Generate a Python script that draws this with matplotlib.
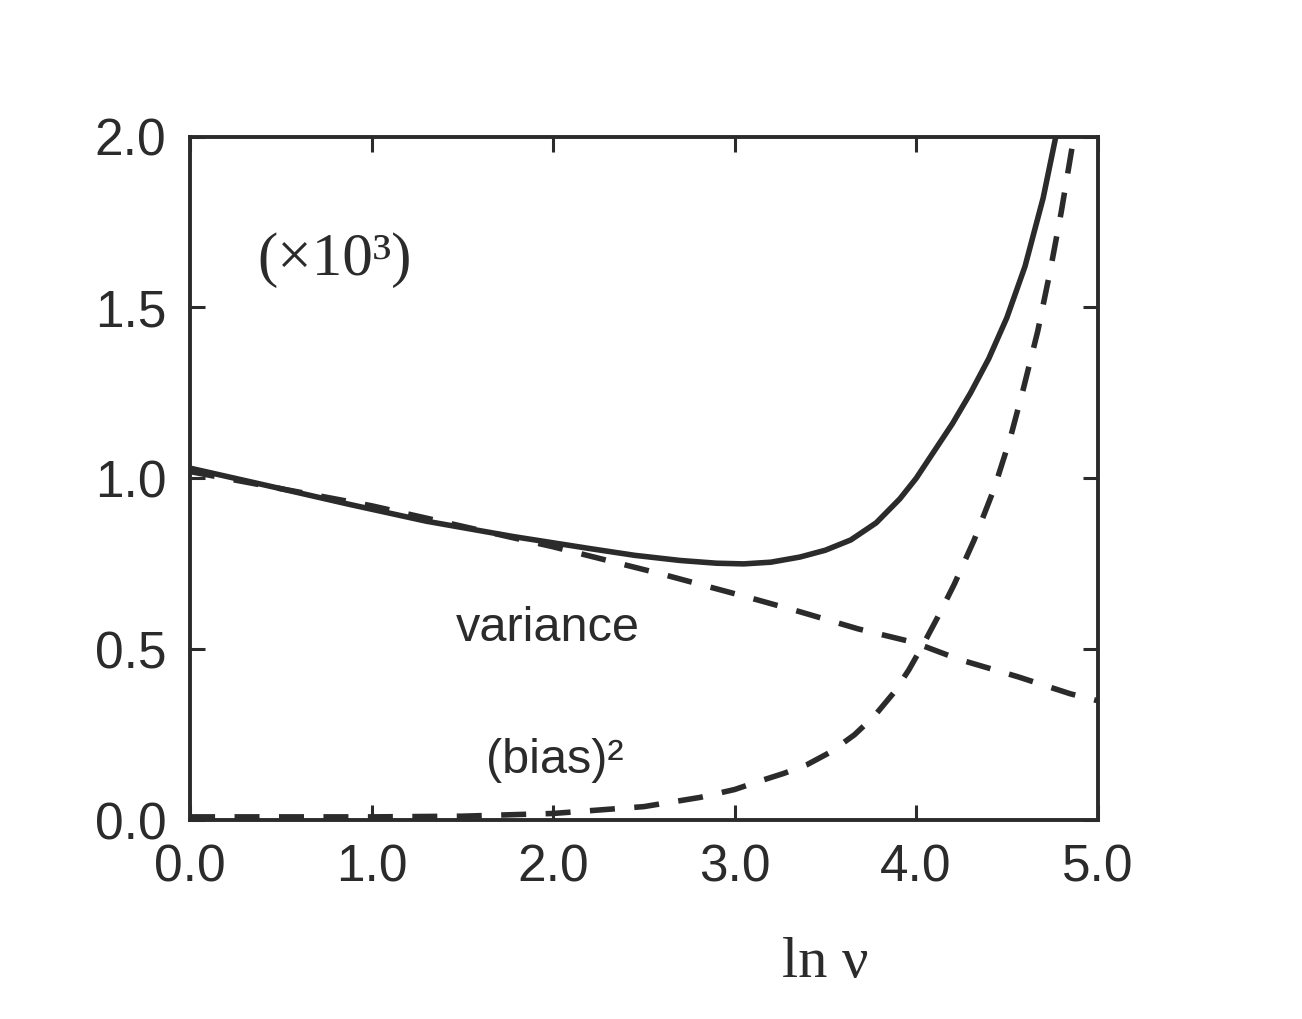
import numpy as np
import matplotlib
matplotlib.use("Agg")
import matplotlib.pyplot as plt

# values (in units of 10^3)
x_total = [0.0, 0.5, 0.87, 1.3, 1.78, 2.2, 2.45, 2.7, 2.9, 3.05, 3.2, 3.36, 3.5, 3.64, 3.78,
           3.91, 4.0, 4.1, 4.2, 4.3, 4.4, 4.5, 4.6, 4.7, 4.77]
y_total = [1.03, 0.97, 0.925, 0.875, 0.83, 0.795, 0.775, 0.76, 0.752, 0.75, 0.755, 0.77, 0.79, 0.82, 0.87,
           0.94, 1.0, 1.08, 1.16, 1.25, 1.35, 1.47, 1.62, 1.82, 2.0]

x_var = [0.0, 0.5, 1.0, 1.5, 2.0, 2.6, 3.09, 3.36, 3.68, 3.99, 4.24, 4.56, 4.85, 5.0]
y_var = [1.02, 0.97, 0.92, 0.86, 0.80, 0.72, 0.65, 0.61, 0.56, 0.52, 0.47, 0.42, 0.37, 0.35]

x_bias = [0.0, 1.0, 1.5, 2.0, 2.5, 2.81, 3.0, 3.14, 3.27, 3.40, 3.53, 3.66, 3.77, 3.88, 3.96, 4.04,
          4.12, 4.21, 4.32, 4.43, 4.52, 4.59, 4.67, 4.74, 4.80, 4.86, 4.88]
y_bias = [0.01, 0.01, 0.012, 0.02, 0.04, 0.067, 0.09, 0.115, 0.137, 0.163, 0.20, 0.25, 0.305, 0.375, 0.44, 0.515,
          0.595, 0.69, 0.82, 0.97, 1.12, 1.26, 1.43, 1.61, 1.78, 1.97, 2.0]

xticks = [0.0, 1.0, 2.0, 3.0, 4.0, 5.0]
yticks = [0.0, 0.5, 1.0, 1.5, 2.0]

ink = "#2b2b2b"
sans = ["Liberation Sans", "DejaVu Sans"]
serif = ["Liberation Serif", "DejaVu Serif"]

fig = plt.figure(figsize=(13.02, 10.19), dpi=100)
ax = fig.add_axes([0.146, 0.195, 0.697, 0.671])

ax.plot(x_total, y_total, color=ink, lw=4.0, solid_joinstyle="round")
ax.plot(x_var, y_var, color=ink, lw=4.0, dashes=(4.5, 3.5))
ax.plot(x_bias, y_bias, color=ink, lw=4.0, dashes=(4.5, 3.5))

ax.set_xlim(0, 5)
ax.set_ylim(0, 2)
ax.set_xticks(xticks)
ax.set_yticks(yticks)
ax.set_xticklabels([f"{v:.1f}" for v in xticks], family=sans, fontsize=37, color=ink)
ax.set_yticklabels([f"{v:.1f}" for v in yticks], family=sans, fontsize=37, color=ink)
ax.tick_params(direction="in", length=11, width=2.2, color=ink, pad=17,
               top=True, right=True)

for s in ax.spines.values():
    s.set_linewidth(2.8)
    s.set_color(ink)

ax.text(0.37, 1.64, "(×10³)", family=serif, fontsize=44, color=ink, va="center", ha="left")
ax.text(1.97, 0.56, "variance", family=sans, fontsize=35, color=ink, va="center", ha="center")
ax.text(2.01, 0.175, "(bias)²", family=sans, fontsize=35, color=ink, va="center", ha="center")

ax.set_xlabel("ln ν", family=serif, fontsize=42, color=ink)
ax.xaxis.set_label_coords(0.70, -0.17)

fig.savefig("out.png", dpi=100, facecolor="white")
